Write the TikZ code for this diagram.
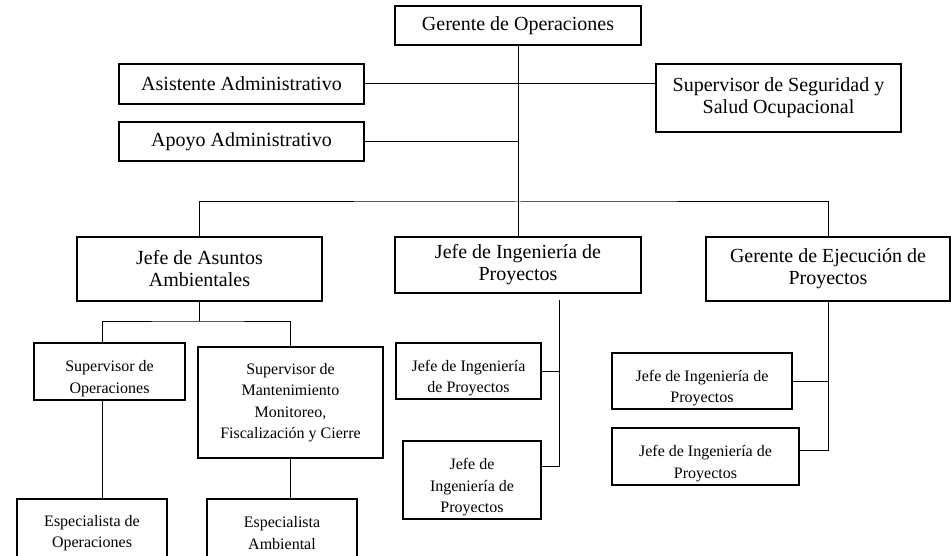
\documentclass[tikz,border=0pt]{standalone}
\usepackage{fontspec}
\setmainfont{Liberation Serif}
\usepackage{tikz}

\tikzset{
  cargo/.style={draw=black, line width=1.1pt, inner sep=0pt, align=center, font=\fontsize{20}{22}\selectfont},
  cargochico/.style={cargo, font=\fontsize{16}{21.5}\selectfont},
  bajo/.style={text height=#1},
  bajo/.default=47pt,
  linea/.style={draw=black, line width=1pt}
}

\begin{document}
\begin{tikzpicture}[x=1pt,y=-1pt]
\useasboundingbox (0,0) rectangle (951,556);
\clip (0,0) rectangle (951,556);
% gerencia
\node[cargo, minimum width=246pt, minimum height=39pt] (gerop) at (518,25.5) {Gerente de Operaciones};
\node[cargo, minimum width=245pt, minimum height=40pt] (asist) at (241.5,84) {Asistente Administrativo};
\node[cargo, minimum width=245pt, minimum height=39pt] (apoyo) at (241.5,141.5) {Apoyo Administrativo};
\node[cargo, minimum width=245pt, minimum height=68pt] (segur) at (778.5,98) {Supervisor de Seguridad y\\Salud Ocupacional};
% jefaturas
\node[cargo, minimum width=245pt, minimum height=64pt] (asuntos) at (199.5,269) {Jefe de Asuntos\\Ambientales};
\node[cargo, minimum width=246pt, minimum height=56pt] (ingproy) at (518,265) {Jefe de Ingeniería de\\Proyectos};
\node[cargo, minimum width=244pt, minimum height=64pt] (ejec) at (828,269) {Gerente de Ejecución de\\Proyectos};
% asuntos ambientales
\node[cargochico, bajo, minimum width=151pt, minimum height=57pt] (supop) at (109.5,371.5) {Supervisor de\\Operaciones};
\node[cargochico, minimum width=185pt, minimum height=111pt] (supmant) at (290.5,402.5) {Supervisor de\\Mantenimiento\\Monitoreo,\\Fiscalización y Cierre};
\node[cargochico, minimum width=150pt, minimum height=68pt] (espop) at (92,533) {Especialista de\\Operaciones};
\node[cargochico, minimum width=150pt, minimum height=68pt] (espamb) at (282,533) {Especialista\\Ambiental};
% ingenieria
\node[cargochico, bajo, minimum width=145pt, minimum height=56pt] (ingA) at (468.5,371) {Jefe de Ingeniería\\de Proyectos};
\node[cargochico, bajo=68.5pt, minimum width=138pt, minimum height=78pt] (ingB) at (472,480) {Jefe de\\Ingeniería de\\Proyectos};
% ejecucion
\node[cargochico, bajo, minimum width=180pt, minimum height=56pt] (ingC) at (702,381) {Jefe de Ingeniería de\\Proyectos};
\node[cargochico, bajo, minimum width=187pt, minimum height=57pt] (ingD) at (705.5,456.5) {Jefe de Ingeniería de\\Proyectos};

\coordinate (bus) at (518,202);
\coordinate (split) at (199.5,321);
\coordinate (ingtop) at (559,300);

\draw[linea] (gerop.south) -- (ingproy.north);
\draw[linea] (asist.east) -- (asist.east -| segur.west);
\draw[linea] (apoyo.east) -- (apoyo.east -| gerop.south);
\draw[linea] (asuntos.north) |- (bus) -| (ejec.north);
\draw[linea] (asuntos.south) -- (split);
\draw[linea] ([xshift=-7.5pt]supop.north) |- (split) -| (supmant.north);
\draw[linea] ([xshift=-7.5pt]supop.south) -- ([xshift=-7.5pt]supop.south |- espop.north);
\draw[linea] (supmant.south) -- (supmant.south |- espamb.north);
\draw[linea] (ingtop) |- ([yshift=14pt]ingB.east);
\draw[linea] (ingA.east) -- (ingA.east -| ingtop);
\draw[linea] (ejec.south) |- ([yshift=6.5pt]ingD.east);
\draw[linea] (ingC.east) -- (ingC.east -| ejec.south);
\end{tikzpicture}
\end{document}
